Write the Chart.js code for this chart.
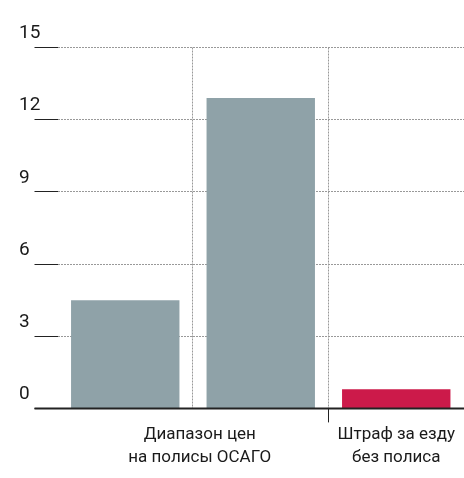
<!DOCTYPE html>
<html>
<head>
<meta charset="utf-8">
<script src="https://cdn.jsdelivr.net/npm/chart.js@4"></script>
<style>
  body { margin: 0; background: #fff; }
</style>
</head>
<body>
<canvas id="chart" width="464" height="478"></canvas>
<script>
// data
const categories = ['Минимум', 'Максимум', 'Штраф'];
const values = [4.5, 12.9, 0.8];
const barColors = ['#8fa2a8', '#8fa2a8', '#cc1a4a'];
const yTicks = [0, 3, 6, 9, 12, 15];
const groupLabels = [['Диапазон цен', 'на полисы ОСАГО'], ['Штраф за езду', 'без полиса']];
const groupCenters = [1.05, 2.5];

const FONT = "Roboto, 'Liberation Sans Narrow', sans-serif";

// vertical separators + heavy zero line
const overlay = {
  id: 'overlay',
  afterDatasetsDraw(chart) {
    const ctx = chart.ctx;
    const x = chart.scales.x;
    const y = chart.scales.y;
    const area = chart.chartArea;
    const half = (x.getPixelForValue(1) - x.getPixelForValue(0)) / 2;
    const y0 = y.getPixelForValue(0);
    ctx.save();
    ctx.strokeStyle = '#999';
    ctx.lineWidth = 1;
    ctx.setLineDash([2, 1]);
    [0, 1].forEach((i) => {
      const px = Math.round(x.getPixelForValue(i) + half) - 0.5;
      ctx.beginPath();
      ctx.moveTo(px, area.top);
      ctx.lineTo(px, y0);
      ctx.stroke();
    });
    ctx.setLineDash([]);
    // tick under the second separator
    ctx.strokeStyle = '#222';
    const px2 = Math.round(x.getPixelForValue(1) + half) - 0.5;
    ctx.beginPath();
    ctx.moveTo(px2, y0);
    ctx.lineTo(px2, y0 + 14);
    ctx.stroke();
    // zero line
    ctx.lineWidth = 2;
    ctx.beginPath();
    ctx.moveTo(area.left - 23, y0);
    ctx.lineTo(area.right, y0);
    ctx.stroke();
    ctx.restore();
  }
};

new Chart(document.getElementById('chart'), {
  type: 'bar',
  data: {
    labels: categories,
    datasets: [{
      data: values,
      backgroundColor: barColors,
      barPercentage: 0.8,
      categoryPercentage: 1
    }]
  },
  options: {
    responsive: false,
    animation: false,
    layout: { padding: { left: 19, right: 0, top: 47.5, bottom: 2 } },
    plugins: {
      legend: { display: false },
      tooltip: { enabled: false }
    },
    scales: {
      x: { display: false },
      x2: {
        type: 'linear',
        position: 'bottom',
        offset: false,
        min: 0,
        max: 3,
        grid: { display: false, offset: false },
        border: { display: false },
        afterBuildTicks: (axis) => {
          axis.ticks = groupCenters.map((v) => ({ value: v }));
        },
        ticks: {
          autoSkip: false,
          maxRotation: 0,
          padding: 6,
          color: '#1a1a1a',
          font: { family: FONT, size: 17, lineHeight: 1.4 },
          callback: (v) => groupLabels[groupCenters.indexOf(v)]
        }
      },
      y: {
        min: 0,
        max: 15,
        afterBuildTicks: (axis) => {
          axis.ticks = yTicks.map((v) => ({ value: v }));
        },
        afterFit: (s) => { s.width = 38.5; },
        grid: {
          color: (c) => (c.tick && c.tick.value === 0 ? 'rgba(0,0,0,0)' : '#999'),
          lineWidth: 1,
          tickLength: 23,
          tickColor: '#222',
          tickBorderDash: []
        },
        border: { display: false, dash: [2, 1] },
        ticks: {
          crossAlign: 'far',
          labelOffset: -14,
          padding: 0,
          color: '#1a1a1a',
          font: { family: FONT, size: 19 }
        }
      }
    }
  },
  plugins: [overlay]
});
</script>
</body>
</html>
